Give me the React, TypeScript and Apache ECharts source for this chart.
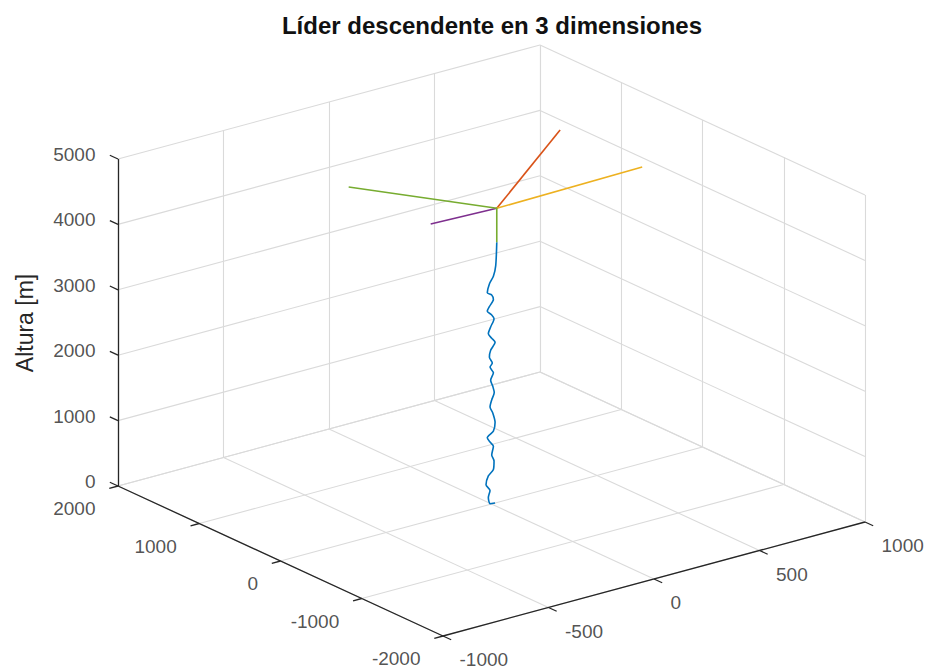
import React, { useEffect, useRef } from "react";
import * as echarts from "echarts";

// ---------- axis ranges & ticks ----------
const X_RANGE = [-1000, 1000];
const Y_RANGE = [-2000, 2000];
const Z_RANGE = [0, 5000];
const X_TICKS = [-1000, -500, 0, 500, 1000];
const Y_TICKS = [-2000, -1000, 0, 1000, 2000];
const Z_TICKS = [0, 1000, 2000, 3000, 4000, 5000];

const TITLE = "Líder descendente en 3 dimensiones";
const Z_LABEL = "Altura [m]";

// ---------- data (metres) ----------
// main descending leader (blue)
const LEADER_X = [25, 20, 9, -10, -20, 1, 9, -10, -20, 1, 12, -4, -15, 1, 17, -4, -10, 4, -7, 9, -4, 6, 13, 1, -7, 6, 17, 9, -20, -7, 9, 1, 12, 9, -15, -26, -7, -15, -7, 17];
const LEADER_Y = [0, 0, 0, 0, 0, 0, 0, 0, 0, 0, 0, 0, 0, 0, 0, 0, 0, 0, 0, 0, 0, 0, 0, 0, 0, 0, 0, 0, 0, 0, 0, 0, 0, 0, 0, 0, 0, 0, 0, 0];
const LEADER_Z = [3980, 3628, 3475, 3374, 3246, 3196, 3119, 3027, 2966, 2890, 2824, 2711, 2615, 2534, 2457, 2355, 2252, 2151, 2099, 1998, 1896, 1794, 1693, 1590, 1488, 1387, 1234, 1105, 1029, 953, 876, 749, 647, 520, 443, 317, 214, 112, 11, 0];

// branches from the cloud junction
const ORANGE_X = [25, 510];
const ORANGE_Y = [0, 480];
const ORANGE_Z = [4500, 5000];

const YELLOW_X = [25, 770];
const YELLOW_Y = [0, 145];
const YELLOW_Z = [4500, 4400];

const PURPLE_X = [25, -190];
const PURPLE_Y = [0, 255];
const PURPLE_Z = [4500, 4300];

const GREEN_X = [-365, 25, 25];
const GREEN_Y = [810, 0, 0];
const GREEN_Z = [4700, 4500, 3980];

// ---------- projected plot-box geometry (view of the 3-D box) ----------
const W = 935;
const H = 670;
const BOX_ORIGIN = [443, 636]; // corner (xmin, ymin, zmin)
const BOX_VX = [422, -114];
const BOX_VY = [-325, -150];
const BOX_VZ = [0, -327];

const FONT = "'Liberation Sans', Arial, Helvetica, sans-serif";
const TEXT_COLOR = "#262626";
const GRID_COLOR = "#dadada";
const AXIS_COLOR = "#262626";
const COLORS = {
  blue: "#0072BD",
  orange: "#D95319",
  yellow: "#EDB120",
  purple: "#7E2F8E",
  green: "#77AC30",
};

function proj(x: number, y: number, z: number): [number, number] {
  const nx = (x - X_RANGE[0]) / (X_RANGE[1] - X_RANGE[0]);
  const ny = (y - Y_RANGE[0]) / (Y_RANGE[1] - Y_RANGE[0]);
  const nz = (z - Z_RANGE[0]) / (Z_RANGE[1] - Z_RANGE[0]);
  return [
    BOX_ORIGIN[0] + nx * BOX_VX[0] + ny * BOX_VY[0] + nz * BOX_VZ[0],
    BOX_ORIGIN[1] + nx * BOX_VX[1] + ny * BOX_VY[1] + nz * BOX_VZ[1],
  ];
}

function path(xs: number[], ys: number[], zs: number[]) {
  return xs.map((x, i) => proj(x, ys[i], zs[i]));
}

function unit(v: number[], sign = 1) {
  const l = Math.hypot(v[0], v[1]);
  return [(sign * v[0]) / l, (sign * v[1]) / l];
}

function buildOption() {
  const [x0, x1] = X_RANGE;
  const [y0, y1] = Y_RANGE;
  const [z0, z1] = Z_RANGE;

  const seg = (a: number[], b: number[]) => ({ coords: [proj(a[0], a[1], a[2]), proj(b[0], b[1], b[2])] });

  // grid lines on the three back planes
  const gridSegs: any[] = [];
  X_TICKS.forEach((x) => {
    gridSegs.push(seg([x, y0, z0], [x, y1, z0]));
    gridSegs.push(seg([x, y1, z0], [x, y1, z1]));
  });
  Y_TICKS.forEach((y) => {
    gridSegs.push(seg([x0, y, z0], [x1, y, z0]));
    gridSegs.push(seg([x1, y, z0], [x1, y, z1]));
  });
  Z_TICKS.forEach((z) => {
    gridSegs.push(seg([x0, y1, z], [x1, y1, z]));
    gridSegs.push(seg([x1, y0, z], [x1, y1, z]));
  });

  // axis lines
  const axisSegs = [
    seg([x0, y1, z0], [x0, y1, z1]),
    seg([x0, y0, z0], [x0, y1, z0]),
    seg([x0, y0, z0], [x1, y0, z0]),
  ];

  // tick marks
  const tickSegs: any[] = [];
  const dz = unit(BOX_VY, 1);
  const dy = unit(BOX_VX, -1);
  const dx = unit(BOX_VY, -1);
  const TL = 9;
  const zTickPts: any[] = [];
  const yTickPts: any[] = [];
  const xTickPts: any[] = [];
  Z_TICKS.forEach((z) => {
    const p = proj(x0, y1, z);
    tickSegs.push({ coords: [p, [p[0] + dz[0] * TL, p[1] + dz[1] * TL]] });
    zTickPts.push([p[0], p[1], String(z)]);
  });
  Y_TICKS.forEach((y) => {
    const p = proj(x0, y, z0);
    tickSegs.push({ coords: [p, [p[0] + dy[0] * TL, p[1] + dy[1] * TL]] });
    yTickPts.push([p[0], p[1], String(y)]);
  });
  X_TICKS.forEach((x) => {
    const p = proj(x, y0, z0);
    tickSegs.push({ coords: [p, [p[0] + dx[0] * TL, p[1] + dx[1] * TL]] });
    xTickPts.push([p[0], p[1], String(x)]);
  });

  const labelSeries = (data: any[], position: number[], align: string) => ({
    type: "scatter",
    silent: true,
    symbolSize: 1,
    itemStyle: { color: "rgba(0,0,0,0)" },
    data,
    z: 5,
    label: {
      show: true,
      formatter: (p: any) => p.value[2],
      position,
      align,
      verticalAlign: "middle",
      color: TEXT_COLOR,
      fontSize: 19,
      fontFamily: FONT,
    },
  });

  const dataLine = (pts: number[][], color: string, smooth: number | boolean = false) => ({
    type: "line",
    silent: true,
    data: pts,
    showSymbol: false,
    symbol: "none",
    smooth,
    lineStyle: { color, width: 1.6 },
    z: 10,
  });

  return {
    animation: false,
    grid: { left: 0, right: 0, top: 0, bottom: 0 },
    xAxis: { type: "value", min: 0, max: W, show: false },
    yAxis: { type: "value", min: 0, max: H, inverse: true, show: false },
    graphic: [
      {
        type: "text",
        x: 492,
        y: 25,
        style: {
          text: TITLE,
          textAlign: "center",
          textVerticalAlign: "middle",
          font: `bold 24px ${FONT}`,
          fill: "#111111",
        },
      },
      {
        type: "text",
        x: 25,
        y: 323,
        rotation: Math.PI / 2,
        style: {
          text: Z_LABEL,
          textAlign: "center",
          textVerticalAlign: "middle",
          font: `23px ${FONT}`,
          fill: TEXT_COLOR,
        },
      },
    ],
    series: [
      {
        type: "lines",
        coordinateSystem: "cartesian2d",
        silent: true,
        data: gridSegs,
        lineStyle: { color: GRID_COLOR, width: 1.1, opacity: 1 },
        z: 1,
      },
      {
        type: "lines",
        coordinateSystem: "cartesian2d",
        silent: true,
        data: axisSegs.concat(tickSegs),
        lineStyle: { color: AXIS_COLOR, width: 1.3, opacity: 1 },
        z: 3,
      },
      labelSeries(zTickPts, [-22, -4], "right"),
      labelSeries(yTickPts, [-22, 23], "right"),
      labelSeries(xTickPts, [17, 24], "left"),
      dataLine(path(LEADER_X, LEADER_Y, LEADER_Z), COLORS.blue, 0.25),
      dataLine(path(ORANGE_X, ORANGE_Y, ORANGE_Z), COLORS.orange),
      dataLine(path(YELLOW_X, YELLOW_Y, YELLOW_Z), COLORS.yellow),
      dataLine(path(PURPLE_X, PURPLE_Y, PURPLE_Z), COLORS.purple),
      dataLine(path(GREEN_X, GREEN_Y, GREEN_Z), COLORS.green),
    ],
  };
}

export default function App() {
  const ref = useRef<HTMLDivElement>(null);
  useEffect(() => {
    if (!ref.current) return;
    const chart = echarts.init(ref.current, undefined, { renderer: "svg" });
    chart.setOption(buildOption() as any);
    return () => chart.dispose();
  }, []);
  return (
    <div
      ref={ref}
      style={{ position: "fixed", left: 0, top: 0, width: W, height: H, background: "#ffffff" }}
    />
  );
}
